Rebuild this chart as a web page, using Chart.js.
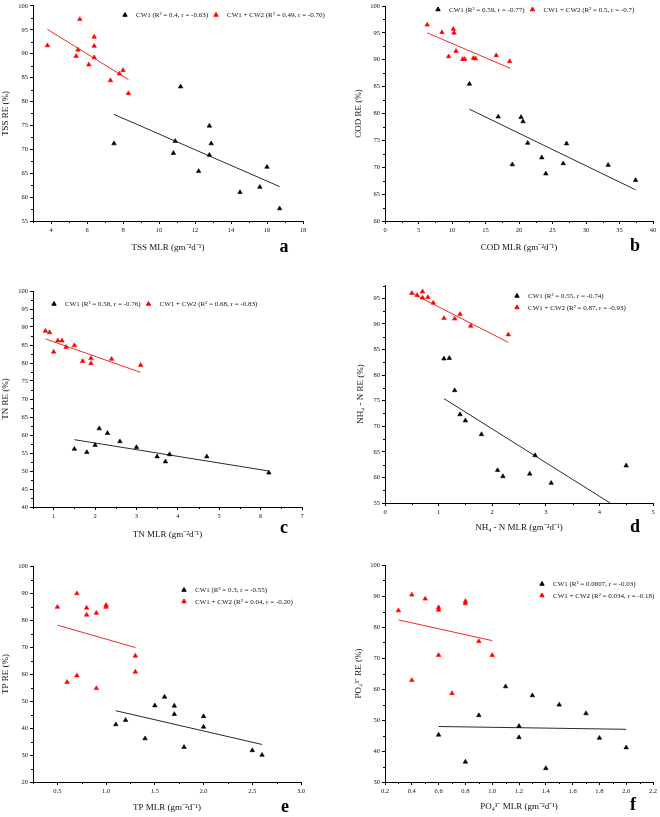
<!DOCTYPE html>
<html>
<head>
<meta charset="utf-8">
<script src="https://cdn.jsdelivr.net/npm/chart.js@4.4.1/dist/chart.umd.min.js"></script>
<style>
  body { margin: 0; background: #fff; width: 660px; height: 817px; position: relative; overflow: hidden; }
  canvas { position: absolute; }
</style>
</head>
<body>
<canvas id="pa"></canvas>
<canvas id="pb"></canvas>
<canvas id="pc"></canvas>
<canvas id="pd"></canvas>
<canvas id="pe"></canvas>
<canvas id="pf"></canvas>
<script>
// ---- data ----
// a: TSS
const tssCw1X = [7.5, 11.2, 10.9, 10.8, 12.8, 12.9, 12.8, 12.2, 16.0, 14.5, 15.6, 16.7];
const tssCw1Y = [71.2, 83.1, 71.7, 69.2, 74.9, 71.2, 68.8, 65.4, 66.3, 61.0, 62.1, 57.6];
const tssCw2X = [3.8, 5.6, 5.5, 5.4, 6.4, 6.4, 6.4, 6.1, 7.3, 7.8, 8.0, 8.3];
const tssCw2Y = [91.7, 97.2, 90.8, 89.5, 93.5, 91.6, 89.2, 87.7, 84.4, 85.8, 86.5, 81.7];
const tssFit1X = [7.5, 16.7], tssFit1Y = [77.3, 62.2];
const tssFit2X = [3.8, 8.3], tssFit2Y = [95.1, 84.6];
const tssXTicks = [4, 6, 8, 10, 12, 14, 16, 18];
const tssYTicks = [55, 60, 65, 70, 75, 80, 85, 90, 95, 100];
const tssLabels = ['CW1 (R² = 0.4, r = -0.63)', 'CW1 + CW2 (R² = 0.49, r = -0.70)'];

// b: COD
const codCw1X = [12.6, 16.9, 20.3, 20.6, 21.3, 19.0, 23.4, 24.0, 26.6, 27.1, 33.3, 37.4];
const codCw1Y = [85.5, 79.4, 79.3, 78.5, 74.5, 70.5, 71.8, 68.8, 70.7, 74.4, 70.4, 67.6];
const codCw2X = [6.3, 8.5, 10.2, 10.3, 9.5, 10.6, 11.6, 11.9, 13.2, 13.5, 16.6, 18.6];
const codCw2Y = [96.5, 95.1, 95.7, 95.0, 90.6, 91.6, 90.1, 90.1, 90.3, 90.2, 90.8, 89.7];
const codFit1X = [12.6, 37.4], codFit1Y = [80.8, 65.8];
const codFit2X = [6.3, 18.7], codFit2Y = [95.0, 88.4];
const codXTicks = [0, 5, 10, 15, 20, 25, 30, 35, 40];
const codYTicks = [60, 65, 70, 75, 80, 85, 90, 95, 100];
const codLabels = ['CW1 (R² = 0.59, r = -0.77)', 'CW1 + CW2 (R² = 0.5, r = -0.7)'];

// c: TN
const tnCw1X = [1.5, 1.8, 2.0, 2.1, 2.3, 2.6, 3.0, 3.5, 3.7, 3.8, 4.7, 6.2];
const tnCw1Y = [56.1, 55.2, 57.2, 61.8, 60.5, 58.2, 56.6, 54.0, 52.6, 54.6, 54.0, 49.5];
const tnCw2X = [0.8, 0.9, 1.0, 1.1, 1.2, 1.3, 1.5, 1.7, 1.9, 1.9, 2.4, 3.1];
const tnCw2Y = [88.9, 88.5, 83.1, 86.2, 86.2, 84.4, 84.9, 80.5, 81.3, 79.9, 81.1, 79.4];
const tnFit1X = [1.5, 6.2], tnFit1Y = [58.7, 50.0];
const tnFit2X = [0.8, 3.1], tnFit2Y = [86.7, 77.4];
const tnXTicks = [1, 2, 3, 4, 5, 6, 7];
const tnYTicks = [40, 45, 50, 55, 60, 65, 70, 75, 80, 85, 90, 95, 100];
const tnLabels = ['CW1 (R² = 0.58, r = -0.76)', 'CW1 + CW2 (R² = 0.68, r = -0.83)'];

// d: NH4-N
const nhCw1X = [1.1, 1.2, 1.3, 1.4, 1.5, 1.8, 2.1, 2.2, 2.7, 2.8, 3.1, 4.5];
const nhCw1Y = [83.2, 83.3, 77.0, 72.3, 71.1, 68.4, 61.4, 60.2, 60.7, 64.3, 58.9, 62.3];
const nhCw2X = [0.5, 0.6, 0.7, 0.7, 0.8, 0.9, 1.1, 1.3, 1.4, 1.6, 2.3];
const nhCw2Y = [96.0, 95.6, 96.3, 95.1, 95.2, 94.1, 91.1, 91.0, 91.9, 89.6, 87.9];
const nhFit1X = [1.1, 4.2], nhFit1Y = [75.4, 55.0];
const nhFit2X = [0.5, 2.3], nhFit2Y = [96.0, 86.4];
const nhXTicks = [0, 1, 2, 3, 4, 5];
const nhYTicks = [55, 60, 65, 70, 75, 80, 85, 90, 95];
const nhLabels = ['CW1 (R² = 0.55, r = -0.74)', 'CW1 + CW2 (R² = 0.87, r = -0.93)'];

// e: TP
const tpCw1X = [1.1, 1.2, 1.4, 1.5, 1.6, 1.7, 1.7, 1.8, 2.0, 2.0, 2.5, 2.6];
const tpCw1Y = [41.3, 42.9, 36.1, 48.3, 51.5, 48.2, 45.1, 32.9, 44.3, 40.4, 31.7, 30.0];
const tpCw2X = [0.5, 0.7, 0.8, 0.8, 0.9, 1.0, 1.0, 1.3, 1.3, 0.6, 0.7, 0.9];
const tpCw2Y = [84.8, 89.8, 84.5, 81.9, 82.6, 85.5, 84.8, 66.7, 60.8, 57.0, 59.4, 54.7];
const tpFit1X = [1.1, 2.6], tpFit1Y = [46.4, 33.9];
const tpFit2X = [0.5, 1.3], tpFit2Y = [78.1, 69.8];
const tpXTicks = [0.5, 1.0, 1.5, 2.0, 2.5, 3.0];
const tpYTicks = [20, 30, 40, 50, 60, 70, 80, 90, 100];
const tpLabels = ['CW1 (R² = 0.3, r = -0.55)', 'CW1 + CW2 (R² = 0.04, r = -0.20)'];

// f: PO4
const poCw1X = [0.6, 0.8, 0.9, 1.1, 1.2, 1.2, 1.3, 1.4, 1.5, 1.7, 1.8, 2.0];
const poCw1Y = [45.2, 36.5, 51.5, 60.8, 48.0, 44.4, 57.9, 34.4, 54.9, 52.1, 44.2, 41.1];
const poCw2X = [0.3, 0.4, 0.4, 0.5, 0.6, 0.6, 0.6, 0.7, 0.8, 0.8, 0.9, 1.0];
const poCw2Y = [85.3, 90.4, 62.8, 89.1, 86.3, 85.5, 70.9, 58.6, 88.3, 87.6, 75.4, 70.9];
const poFit1X = [0.6, 2.0], poFit1Y = [47.9, 47.0];
const poFit2X = [0.3, 1.0], poFit2Y = [82.3, 75.6];
const poXTicks = [0.2, 0.4, 0.6, 0.8, 1.0, 1.2, 1.4, 1.6, 1.8, 2.0, 2.2];
const poYTicks = [30, 40, 50, 60, 70, 80, 90, 100];
const poLabels = ['CW1 (R² = 0.0007, r = -0.03)', 'CW1 + CW2 (R² = 0.034, r = -0.18)'];

// ---- drawing ----
const FONT = '"Liberation Serif", "Times New Roman", serif';
Chart.defaults.font.family = FONT;
Chart.defaults.color = '#111';

const pts = (xs, ys) => xs.map((x, i) => ({x: x, y: ys[i]}));

// small outward minor ticks between the major ones
const minorTicks = {
  id: 'minorTicks',
  afterDraw(chart, args, o) {
    const ctx = chart.ctx, area = chart.chartArea;
    const xs = chart.scales.x, ys = chart.scales.y;
    ctx.save();
    ctx.strokeStyle = '#000';
    ctx.lineWidth = 1;
    ctx.beginPath();
    const isMajor = (s, v) => s.ticks.some(t => Math.abs(t.value - v) < 1e-6);
    let start = Math.ceil(xs.min / o.x - 1e-6);
    for (let i = start; i * o.x <= xs.max + 1e-6; i++) {
      const v = i * o.x;
      if (isMajor(xs, v)) continue;
      const px = Math.round(xs.getPixelForValue(v)) + 0.5;
      ctx.moveTo(px, area.bottom);
      ctx.lineTo(px, area.bottom + 2);
    }
    start = Math.ceil(ys.min / o.y - 1e-6);
    for (let i = start; i * o.y <= ys.max + 1e-6; i++) {
      const v = i * o.y;
      if (isMajor(ys, v)) continue;
      const py = Math.round(ys.getPixelForValue(v)) + 0.5;
      ctx.moveTo(area.left, py);
      ctx.lineTo(area.left - 2, py);
    }
    ctx.stroke();
    ctx.restore();
  }
};

// legend with triangle markers + panel letter
const triLegend = {
  id: 'triLegend',
  afterDraw(chart, args, o) {
    const ctx = chart.ctx;
    ctx.save();
    ctx.font = '7px ' + FONT;
    ctx.textBaseline = 'middle';
    ctx.textAlign = 'left';
    let x = o.x, y = o.y;
    chart.data.datasets.forEach(ds => {
      if (!ds.label) return;
      ctx.fillStyle = ds.backgroundColor;
      ctx.strokeStyle = ds.backgroundColor;
      Chart.helpers.drawPoint(ctx, {pointStyle: 'triangle', radius: 2.5, borderWidth: 0.6, rotation: 0}, x, y);
      ctx.fillStyle = '#111';
      ctx.fillText(ds.label, x + 11, y + 0.5);
      if (o.dir === 'row') x += 11 + ctx.measureText(ds.label).width + 8;
      else y += 11.5;
    });
    ctx.font = 'bold 18px ' + FONT;
    ctx.textAlign = 'center';
    ctx.fillStyle = '#000';
    ctx.fillText(o.letter, o.lx, o.ly);
    ctx.restore();
  }
};

function panel(id, box, area, p) {
  const cv = document.getElementById(id);
  cv.width = box[2];
  cv.height = box[3];
  cv.style.left = box[0] + 'px';
  cv.style.top = box[1] + 'px';
  const axisH = box[1] + box[3] - area[3];
  const tickCommon = (fmt) => ({
    padding: 2, autoSkip: false, maxRotation: 0, color: '#111',
    font: {size: 6.5}, callback: v => fmt(v)
  });
  const grid = {display: true, drawOnChartArea: false, drawTicks: true, tickLength: 3, color: '#000', lineWidth: 1};
  const border = {display: true, color: '#000', width: 1};
  new Chart(cv, {
    type: 'scatter',
    data: {
      datasets: [
        {label: p.labels[0], data: pts(p.x1, p.y1), pointStyle: 'triangle', pointRadius: 2.6,
         backgroundColor: '#000', borderColor: '#000', borderWidth: 0.6},
        {label: p.labels[1], data: pts(p.x2, p.y2), pointStyle: 'triangle', pointRadius: 2.6,
         backgroundColor: '#ff0000', borderColor: '#ff0000', borderWidth: 0.6},
        {label: '', data: pts(p.f1x, p.f1y), showLine: true, pointRadius: 0,
         borderColor: '#2a2a2a', borderWidth: 1},
        {label: '', data: pts(p.f2x, p.f2y), showLine: true, pointRadius: 0,
         borderColor: '#ee2a2a', borderWidth: 1}
      ]
    },
    options: {
      responsive: false,
      animation: false,
      events: [],
      layout: {padding: {left: 0, top: area[1] - box[1], right: box[0] + box[2] - area[2], bottom: 0}},
      plugins: {
        legend: {display: false},
        tooltip: {enabled: false},
        minorTicks: {x: p.minorX, y: p.minorY},
        triLegend: {x: p.leg[0] - box[0], y: p.leg[1] - box[1], dir: p.leg[2],
                    letter: p.letter, lx: p.letterPos[0] - box[0], ly: p.letterPos[1] - box[1]}
      },
      scales: {
        x: {
          type: 'linear', min: p.xRange[0], max: p.xRange[1],
          afterBuildTicks: s => { s.ticks = p.xTicks.map(v => ({value: v})); },
          afterFit: s => { s.height = axisH; },
          ticks: tickCommon(p.xFmt),
          grid: grid, border: border,
          title: {display: true, text: p.xTitle, color: '#111', font: {size: 9},
                  padding: {top: 0, bottom: box[1] + box[3] - p.xTitleY - 5.4}}
        },
        y: {
          type: 'linear', min: p.yRange[0], max: p.yRange[1],
          afterBuildTicks: s => { s.ticks = p.yTicks.map(v => ({value: v})); },
          afterFit: s => { s.width = area[0] - box[0]; },
          ticks: tickCommon(v => String(v)),
          grid: grid, border: border,
          title: {display: true, text: p.yTitle, color: '#111', font: {size: 9},
                  padding: {top: p.yTitleX - box[0] - 5.4, bottom: 0}}
        }
      }
    },
    plugins: [minorTicks, triLegend]
  });
}

const intFmt = v => String(v);
const oneDec = v => v.toFixed(1);

panel('pa', [0, 0, 330, 262], [33, 5, 303, 221], {
  x1: tssCw1X, y1: tssCw1Y, x2: tssCw2X, y2: tssCw2Y,
  f1x: tssFit1X, f1y: tssFit1Y, f2x: tssFit2X, f2y: tssFit2Y,
  labels: tssLabels, xTicks: tssXTicks, yTicks: tssYTicks,
  xRange: [3, 18], yRange: [55, 100], minorX: 1, minorY: 2.5, xFmt: intFmt,
  xTitle: 'TSS MLR (gm⁻²d⁻¹)', yTitle: 'TSS RE (%)', xTitleY: 248, yTitleX: 6,
  leg: [125, 15, 'row'], letter: 'a', letterPos: [284, 247]
});

panel('pb', [352, 0, 308, 262], [385, 6, 653, 221], {
  x1: codCw1X, y1: codCw1Y, x2: codCw2X, y2: codCw2Y,
  f1x: codFit1X, f1y: codFit1Y, f2x: codFit2X, f2y: codFit2Y,
  labels: codLabels, xTicks: codXTicks, yTicks: codYTicks,
  xRange: [0, 40], yRange: [60, 100], minorX: 2.5, minorY: 2.5, xFmt: intFmt,
  xTitle: 'COD MLR (gm⁻²d⁻¹)', yTitle: 'COD RE (%)', xTitleY: 248, yTitleX: 359,
  leg: [438, 9.5, 'row'], letter: 'b', letterPos: [635, 246]
});

panel('pc', [0, 270, 330, 275], [33, 291, 302, 507], {
  x1: tnCw1X, y1: tnCw1Y, x2: tnCw2X, y2: tnCw2Y,
  f1x: tnFit1X, f1y: tnFit1Y, f2x: tnFit2X, f2y: tnFit2Y,
  labels: tnLabels, xTicks: tnXTicks, yTicks: tnYTicks,
  xRange: [0.5, 7], yRange: [40, 100], minorX: 0.5, minorY: 2.5, xFmt: intFmt,
  xTitle: 'TN MLR (gm⁻²d⁻¹)', yTitle: 'TN RE (%)', xTitleY: 535, yTitleX: 6,
  leg: [54, 304, 'row'], letter: 'c', letterPos: [284, 528]
});

panel('pd', [352, 270, 308, 275], [385, 285, 653, 503], {
  x1: nhCw1X, y1: nhCw1Y, x2: nhCw2X, y2: nhCw2Y,
  f1x: nhFit1X, f1y: nhFit1Y, f2x: nhFit2X, f2y: nhFit2Y,
  labels: nhLabels, xTicks: nhXTicks, yTicks: nhYTicks,
  xRange: [0, 5], yRange: [55, 97.6], minorX: 0.5, minorY: 2.5, xFmt: intFmt,
  xTitle: 'NH₄ - N MLR (gm⁻²d⁻¹)', yTitle: 'NH₄ - N RE (%)', xTitleY: 528, yTitleX: 361,
  leg: [517, 296, 'col'], letter: 'd', letterPos: [635, 527]
});

panel('pe', [0, 545, 330, 272], [33, 566, 301, 782], {
  x1: tpCw1X, y1: tpCw1Y, x2: tpCw2X, y2: tpCw2Y,
  f1x: tpFit1X, f1y: tpFit1Y, f2x: tpFit2X, f2y: tpFit2Y,
  labels: tpLabels, xTicks: tpXTicks, yTicks: tpYTicks,
  xRange: [0.25, 3], yRange: [20, 100], minorX: 0.25, minorY: 5, xFmt: oneDec,
  xTitle: 'TP MLR (gm⁻²d⁻¹)', yTitle: 'TP RE (%)', xTitleY: 808, yTitleX: 6,
  leg: [184, 590, 'col'], letter: 'e', letterPos: [285, 807]
});

panel('pf', [352, 545, 308, 272], [385, 565, 653, 782], {
  x1: poCw1X, y1: poCw1Y, x2: poCw2X, y2: poCw2Y,
  f1x: poFit1X, f1y: poFit1Y, f2x: poFit2X, f2y: poFit2Y,
  labels: poLabels, xTicks: poXTicks, yTicks: poYTicks,
  xRange: [0.2, 2.2], yRange: [30, 100], minorX: 0.1, minorY: 5, xFmt: oneDec,
  xTitle: 'PO₄³⁻ MLR (gm⁻²d⁻¹)', yTitle: 'PO₄³⁻ RE (%)', xTitleY: 807, yTitleX: 359,
  leg: [542, 584, 'col'], letter: 'f', letterPos: [633, 805]
});
</script>
</body>
</html>
